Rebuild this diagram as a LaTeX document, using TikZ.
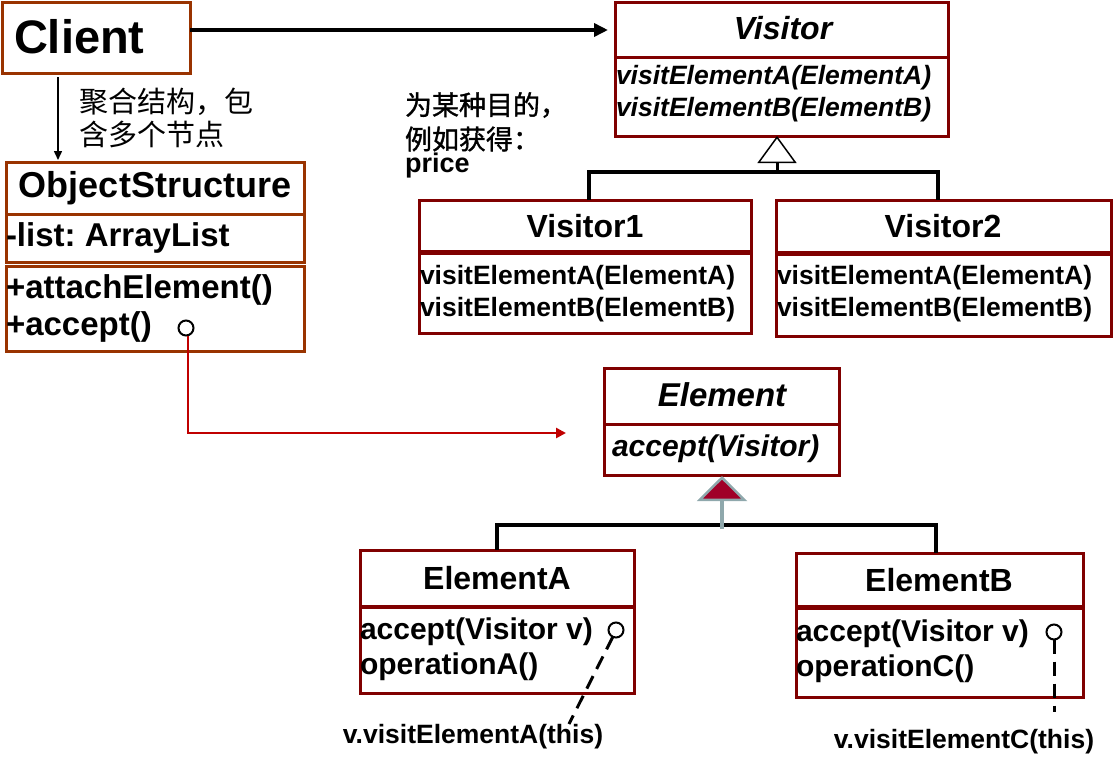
\documentclass[tikz,border=0pt]{standalone}
\usepackage{fontspec}
\setmainfont{Liberation Sans}
\newfontfamily\cjk{Noto Sans CJK SC}
\newfontfamily\cjkbold[FakeBold=1.2]{Noto Sans CJK SC}
\usetikzlibrary{arrows.meta}
\definecolor{rust}{HTML}{993300}
\definecolor{maroon}{HTML}{800000}
\definecolor{redline}{HTML}{C00000}
\definecolor{trifill}{HTML}{A00028}
\definecolor{trigray}{HTML}{8FA8AC}
\newcommand{\fs}[1]{\fontsize{#1pt}{#1pt}\selectfont}
\frenchspacing
\begin{document}
\begin{tikzpicture}[x=1pt,y=-1pt,
  ubox/.style={draw=maroon, line width=3pt, inner sep=0pt, outer sep=0pt},
  obox/.style={ubox, draw=rust},
  txt/.style={inner sep=0pt, outer sep=0pt, font=\bfseries},
  lt/.style={txt, anchor=west},
  divider/.style={maroon, line width=#1},
  divider/.default=3pt,
  pin/.style={circle, draw=black, line width=2pt, minimum size=15pt, inner sep=0pt, outer sep=0pt},
  dashline/.style={black, line width=3pt, dash pattern=on 14pt off 8pt},
  bar/.style={black, line width=3.5pt}
]
\useasboundingbox (0,0) rectangle (1114,764);

% ---------- boxes ----------
\node[obox, minimum width=188pt, minimum height=71pt] (client) at (96,37.5) {};
\node[obox, minimum width=298pt, minimum height=100pt] (os1) at (155,212) {};
\node[obox, minimum width=298pt, minimum height=85pt] (os2) at (155,308.5) {};
\node[ubox, minimum width=333pt, minimum height=134pt] (visitor) at (781.5,69) {};
\node[ubox, minimum width=332pt, minimum height=133pt] (v1) at (585,266.5) {};
\node[ubox, minimum width=335pt, minimum height=136pt] (v2) at (943.5,268) {};
\node[ubox, minimum width=235pt, minimum height=107pt] (element) at (721.5,421.5) {};
\node[ubox, minimum width=274pt, minimum height=143pt] (elA) at (497,621.5) {};
\node[ubox, minimum width=287pt, minimum height=144pt] (elB) at (939.5,625) {};

% ---------- dividers ----------
\draw[rust, line width=3pt] (os1.west |- 0,214) -- (os1.east |- 0,214);
\draw[divider] (visitor.west |- 0,57) -- (visitor.east |- 0,57);
\draw[divider=5pt] (v1.west |- 0,252) -- (v1.east |- 0,252);
\draw[divider=5pt] (v2.west |- 0,253) -- (v2.east |- 0,253);
\draw[divider] (element.west |- 0,424) -- (element.east |- 0,424);
\draw[divider=4pt] (elA.west |- 0,607) -- (elA.east |- 0,607);
\draw[divider=5pt] (elB.west |- 0,607) -- (elB.east |- 0,607);

% ---------- texts ----------
\node[lt, font=\bfseries\fs{47}] (tclient) at (14,37) {Client};
\node[txt, anchor=west, align=left, font=\cjk\fs{29}\linespread{1.15}\selectfont] (agg) at (79,118) {聚合结构，包\\含多个节点};
\node[lt, font=\cjkbold\fs{27}] (purpose1) at (405,105) {为某种目的，};
\node[lt, font=\cjkbold\fs{27}] (purpose2) at (405,139) {例如获得：};
\node[lt, font=\bfseries\fs{27}] (purpose3) at (405,166) {price};

\node[txt, font=\bfseries\fs{36}] (tos) at (155,188) {ObjectStructure};
\node[lt, font=\bfseries\fs{33}] (tlist) at (6,238) {-list: ArrayList};
\node[lt, font=\bfseries\fs{33}] (tattach) at (6,290) {+attachElement()};
\node[lt, font=\bfseries\fs{33}] (taccept) at (6,327) {+accept()};

\node[txt, font=\bfseries\itshape\fs{32}] (tvisitor) at (783,28) {Visitor};
\node[lt, font=\bfseries\itshape\fs{26.5}] (tva) at (616,78) {visitElementA(ElementA)};
\node[lt, font=\bfseries\itshape\fs{26.5}] (tvb) at (616,110) {visitElementB(ElementB)};

\node[txt, font=\bfseries\fs{32}] (tv1) at (585,226) {Visitor1};
\node[lt, font=\bfseries\fs{26.5}] (tv1a) at (420,278) {visitElementA(ElementA)};
\node[lt, font=\bfseries\fs{26.5}] (tv1b) at (420,310) {visitElementB(ElementB)};

\node[txt, font=\bfseries\fs{32}] (tv2) at (943,226) {Visitor2};
\node[lt, font=\bfseries\fs{26.5}] (tv2a) at (777,278) {visitElementA(ElementA)};
\node[lt, font=\bfseries\fs{26.5}] (tv2b) at (777,310) {visitElementB(ElementB)};

\node[txt, font=\bfseries\itshape\fs{33}] (telement) at (722,395) {Element};
\node[lt, font=\bfseries\itshape\fs{30}] (teaccept) at (612,449) {accept(Visitor)};

\node[txt, font=\bfseries\fs{32}] (tea) at (497,578) {ElementA};
\node[lt, font=\bfseries\fs{30}] (teaa) at (360,632) {accept(Visitor v)};
\node[lt, font=\bfseries\fs{30}] (teab) at (360,667) {operationA()};

\node[txt, font=\bfseries\fs{32}] (teb) at (939,580) {ElementB};
\node[lt, font=\bfseries\fs{30}] (teba) at (796,634) {accept(Visitor v)};
\node[lt, font=\bfseries\fs{30}] (tebb) at (796,669) {operationC()};

\node[txt, font=\bfseries\fs{26.5}] (callA) at (473,737) {v.visitElementA(this)};
\node[txt, font=\bfseries\fs{26.5}] (callC) at (964,742) {v.visitElementC(this)};

% ---------- pins ----------
\node[pin] (posc) at (186,328) {};
\node[pin] (pa) at (616,630) {};
\node[pin] (pb) at (1054,632) {};

% ---------- connectors ----------
% Client -> Visitor
\draw[black, line width=3.5pt, -{Triangle[length=14pt,width=13pt]}]
  ([yshift=7.5pt]client.east) -- ([yshift=7.5pt,xshift=-7pt]client.east -| visitor.west);
% Client -> ObjectStructure
\draw[black, line width=1.5pt, -{Triangle[length=9pt,width=8pt]}]
  ([xshift=-38pt,yshift=-4pt]client.south) -- ([xshift=-38pt,yshift=2pt]client.south |- os1.north);
% accept() -> Element (red)
\coordinate (redend) at (566,433);
\draw[redline, line width=2.5pt, -{Triangle[length=10pt,width=10pt]}]
  ([xshift=2pt]posc.south) |- (redend);

% Visitor generalization
\coordinate (vj) at (777,172);
\draw[bar] ([xshift=4pt]v1.north) |- (vj) -| ([xshift=-5.5pt]v2.north);
\draw[black, line width=3pt, -{Triangle[open, length=27pt, width=39pt, line width=1.5pt]}]
  (vj) -- (vj |- visitor.south);

% Element generalization
\coordinate (ej) at (722,525);
\draw[bar] (elA.north) |- (ej) -| ([xshift=-3.5pt]elB.north);
\draw[trigray, line width=3.5pt, -{Triangle[fill=trifill, length=25pt, width=50pt, line width=2.5pt]}]
  ([yshift=-4pt]ej) -- ([yshift=-1pt]ej |- element.south);

% dashed notes
\coordinate (endA) at (569,724);
\draw[dashline] (pa.-115) -- (endA);
\coordinate (endB) at (1054,712);
\draw[dashline] (pb.south) -- (endB);
\end{tikzpicture}
\end{document}
